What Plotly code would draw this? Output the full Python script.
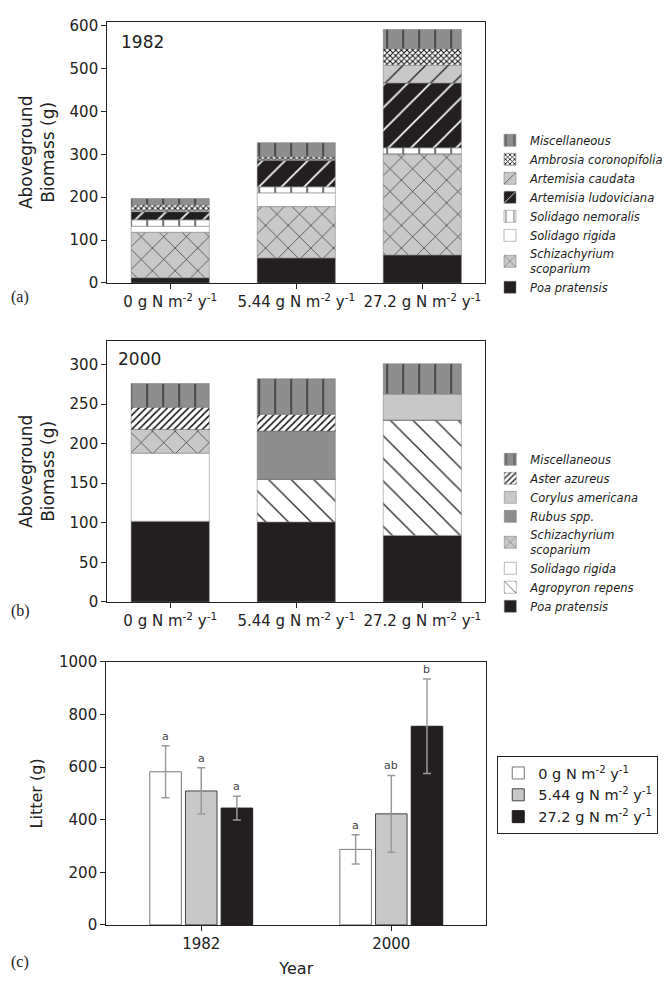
import numpy as np
import plotly.graph_objects as go

# ---------------- data ----------------
treatments = ["0 g N m<sup>-2</sup> y<sup>-1</sup>",
              "5.44 g N m<sup>-2</sup> y<sup>-1</sup>",
              "27.2 g N m<sup>-2</sup> y<sup>-1</sup>"]

# 1982 (bottom -> top stacking order)
sp82_names = ["Poa pratensis", "Schizachyrium<br>scoparium", "Solidago rigida",
              "Solidago nemoralis", "Artemisia ludoviciana", "Artemisia caudata",
              "Ambrosia coronopifolia", "Miscellaneous"]
poa_82 = [12, 58, 65]
schiz_82 = [106, 120, 236]
rigida_82 = [14, 32, 0]
nemoralis_82 = [15, 14, 14]
ludoviciana_82 = [19, 62, 151]
caudata_82 = [3, 2, 42]
ambrosia_82 = [13, 6, 38]
misc_82 = [15, 33, 45]

# 2000 (bottom -> top stacking order)
sp00_names = ["Poa pratensis", "Agropyron repens", "Solidago rigida",
              "Schizachyrium<br>scoparium", "Rubus spp.", "Corylus americana",
              "Aster azureus", "Miscellaneous"]
poa_00 = [102, 101, 84]
agropyron_00 = [0, 54, 146]
rigida_00 = [86, 0, 0]
schiz_00 = [30, 0, 0]
rubus_00 = [0, 61, 0]
corylus_00 = [0, 0, 33]
aster_00 = [28, 21, 0]
misc_00 = [30, 45, 38]

# Litter
years = ["1982", "2000"]
litter_names = ["0 g N m<sup>-2</sup> y<sup>-1</sup>",
                "5.44 g N m<sup>-2</sup> y<sup>-1</sup>",
                "27.2 g N m<sup>-2</sup> y<sup>-1</sup>"]
litter_0 = [582, 287]
litter_544 = [509, 422]
litter_272 = [444, 755]
err_0 = [99, 56]
err_544 = [88, 146]
err_272 = [45, 180]
letters_0 = ["a", "a"]
letters_544 = ["a", "ab"]
letters_272 = ["a", "b"]

# ---------------- styles ----------------
BLACK = "#231f20"
DGRAY = "#8e8e8e"
LGRAY = "#c8c8c8"
FONT = "DejaVu Sans, Arial, sans-serif"
TXT = "#222"

def pat(shape, fg, bg, size, sol):
    return dict(shape=shape, fgcolor=fg, bgcolor=bg, size=size, solidity=sol, fillmode="replace")

styles82 = [
    dict(color=BLACK, pattern=None),
    dict(color=LGRAY, pattern=pat("x", "#111", LGRAY, 16, 0.07)),
    dict(color="white", pattern=None),
    dict(color="white", pattern=pat("|", "#222", "white", 16, 0.08)),
    dict(color=BLACK, pattern=pat("/", "white", BLACK, 16, 0.1)),
    dict(color=LGRAY, pattern=pat("/", "#222", LGRAY, 16, 0.08)),
    dict(color="white", pattern=pat("x", "#111", "white", 4, 0.45)),
    dict(color=DGRAY, pattern=pat("|", "#222", DGRAY, 16, 0.08)),
]
styles00 = [
    dict(color=BLACK, pattern=None),
    dict(color="white", pattern=pat("\\", "#222", "white", 16, 0.08)),
    dict(color="white", pattern=None),
    dict(color=LGRAY, pattern=pat("x", "#111", LGRAY, 16, 0.07)),
    dict(color=DGRAY, pattern=None),
    dict(color=LGRAY, pattern=None),
    dict(color="white", pattern=pat("/", "#111", "white", 5, 0.3)),
    dict(color=DGRAY, pattern=pat("|", "#222", DGRAY, 16, 0.08)),
]

fig = go.Figure()

def add_stack(names, series, styles, xa, ya, legend):
    base = np.zeros(len(treatments))
    for name, vals, st in zip(names, series, styles):
        marker = dict(color=st["color"], line=dict(color="#777", width=0.5))
        if st["pattern"] is not None:
            marker["pattern"] = st["pattern"]
        fig.add_trace(go.Bar(
            x=treatments, y=vals, base=base.copy(), name="<i>%s</i>" % name,
            marker=marker, offsetgroup=legend, width=0.62,
            xaxis=xa, yaxis=ya, legend=legend))
        base = base + np.array(vals)

add_stack(sp82_names, [poa_82, schiz_82, rigida_82, nemoralis_82, ludoviciana_82,
                       caudata_82, ambrosia_82, misc_82], styles82, "x", "y", "legend")
add_stack(sp00_names, [poa_00, agropyron_00, rigida_00, schiz_00, rubus_00,
                       corylus_00, aster_00, misc_00], styles00, "x2", "y2", "legend2")

litter_vals = [litter_0, litter_544, litter_272]
litter_errs = [err_0, err_544, err_272]
litter_letters = [letters_0, letters_544, letters_272]
litter_fill = ["white", LGRAY, BLACK]
litter_line = ["#777", "#444", BLACK]
for k in range(3):
    fig.add_trace(go.Bar(
        x=years, y=litter_vals[k], name=litter_names[k], offsetgroup="c%d" % k,
        marker=dict(color=litter_fill[k], line=dict(color=litter_line[k], width=1)),
        error_y=dict(type="data", array=litter_errs[k], color="#9a9a9a", thickness=1.5, width=4),
        xaxis="x3", yaxis="y3", legend="legend3"))

BARGAP = 0.437
slot = (1 - BARGAP) / 3
annotations = []
for k in range(3):
    for i in range(2):
        annotations.append(dict(
            x=i + (k - 1) * slot, y=litter_vals[k][i] + litter_errs[k][i],
            xref="x3", yref="y3", text=litter_letters[k][i], showarrow=False,
            yanchor="bottom", yshift=1, font=dict(size=11, color="#444", family=FONT)))

def py(px):
    return 1 - px / 981

SERIF = "Liberation Serif, DejaVu Serif, serif"
annotations += [
    dict(x=120 / 669, y=py(34), xref="paper", yref="paper", text="1982", showarrow=False,
         xanchor="left", yanchor="middle", font=dict(size=17, color=TXT, family=FONT)),
    dict(x=117 / 669, y=py(357), xref="paper", yref="paper", text="2000", showarrow=False,
         xanchor="left", yanchor="middle", font=dict(size=17, color=TXT, family=FONT)),
    dict(x=9 / 669, y=py(293), xref="paper", yref="paper", text="(a)", showarrow=False,
         xanchor="left", yanchor="middle", font=dict(size=16, color=TXT, family=SERIF)),
    dict(x=9 / 669, y=py(613), xref="paper", yref="paper", text="(b)", showarrow=False,
         xanchor="left", yanchor="middle", font=dict(size=16, color=TXT, family=SERIF)),
    dict(x=9 / 669, y=py(971), xref="paper", yref="paper", text="(c)", showarrow=False,
         xanchor="left", yanchor="middle", font=dict(size=16, color=TXT, family=SERIF)),
]

axis_common = dict(showline=True, mirror=True, linecolor="#222", linewidth=1,
                   ticks="outside", ticklen=5, tickcolor="#222", showgrid=False,
                   zeroline=False, tickfont=dict(size=15, color=TXT, family=FONT))

legend_common = dict(xanchor="left", yanchor="top", traceorder="reversed",
                     font=dict(size=11.5, family=FONT, color=TXT), bgcolor="rgba(0,0,0,0)",
                     tracegroupgap=0, itemwidth=30)

fig.update_layout(
    width=669, height=981, margin=dict(l=0, r=0, t=0, b=0),
    paper_bgcolor="white", plot_bgcolor="white",
    barmode="group", bargap=BARGAP, bargroupgap=0.116,
    font=dict(family=FONT, color=TXT),
    annotations=annotations,
    xaxis=dict(domain=[108 / 669, 489 / 669], anchor="y", range=[-0.5, 2.5], **axis_common),
    yaxis=dict(domain=[py(279), py(13)], anchor="x", range=[0, 609], dtick=100,
               title=dict(text="Aboveground<br>Biomass (g)", font=dict(size=17), standoff=10),
               **axis_common),
    xaxis2=dict(domain=[108 / 669, 489 / 669], anchor="y2", range=[-0.5, 2.5], **axis_common),
    yaxis2=dict(domain=[py(604), py(338)], anchor="x2", range=[0, 330], dtick=50,
                title=dict(text="Aboveground<br>Biomass (g)", font=dict(size=17), standoff=10),
                **axis_common),
    xaxis3=dict(domain=[107 / 669, 490 / 669], anchor="y3", range=[-0.5, 1.5],
                title=dict(text="Year", font=dict(size=16), standoff=10), **axis_common),
    yaxis3=dict(domain=[py(933), py(665)], anchor="x3", range=[0, 1000], dtick=200,
                title=dict(text="Litter (g)", font=dict(size=16), standoff=12), **axis_common),
    legend=dict(x=494 / 669, y=py(119), **legend_common),
    legend2=dict(x=494 / 669, y=py(444), **legend_common),
    legend3=dict(x=501 / 669, y=py(761), xanchor="left", yanchor="top", traceorder="normal",
                 font=dict(size=14.5, family=FONT, color=TXT), bgcolor="white",
                 bordercolor="#222", borderwidth=1, itemwidth=30),
)

fig.write_html("out.html")
